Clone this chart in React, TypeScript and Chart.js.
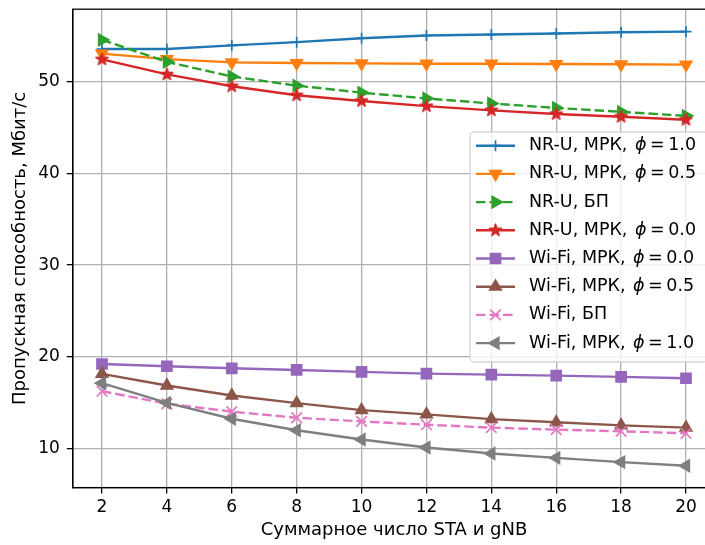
import React, { useEffect, useRef } from 'react';
import { Chart, registerables } from 'chart.js';
Chart.register(...registerables);

const categories = [2, 4, 6, 8, 10, 12, 14, 16, 18, 20];
const xTicks = [2, 4, 6, 8, 10, 12, 14, 16, 18, 20];
const yTicks = [10, 20, 30, 40, 50];

const labels = [
  'NR-U, МРК, ϕ = 1.0',
  'NR-U, МРК, ϕ = 0.5',
  'NR-U, БП',
  'NR-U, МРК, ϕ = 0.0',
  'Wi-Fi, МРК, ϕ = 0.0',
  'Wi-Fi, МРК, ϕ = 0.5',
  'Wi-Fi, БП',
  'Wi-Fi, МРК, ϕ = 1.0',
];

const nrMpk10 = [53.6, 53.6, 54.0, 54.35, 54.78, 55.08, 55.18, 55.3, 55.43, 55.5];
const nrMpk05 = [53.1, 52.5, 52.14, 52.07, 52.03, 52.0, 52.0, 51.96, 51.93, 51.9];
const nrBp = [54.6, 52.2, 50.6, 49.6, 48.84, 48.2, 47.65, 47.17, 46.74, 46.3];
const nrMpk00 = [52.47, 50.83, 49.53, 48.55, 47.93, 47.36, 46.9, 46.5, 46.2, 45.87];
const wfMpk00 = [19.2, 18.95, 18.73, 18.55, 18.34, 18.15, 18.04, 17.93, 17.79, 17.64];
const wfMpk05 = [18.12, 16.85, 15.76, 14.92, 14.16, 13.7, 13.18, 12.83, 12.5, 12.25];
const wfBp = [16.23, 14.86, 14.0, 13.33, 12.93, 12.57, 12.25, 12.03, 11.85, 11.63];
const wfMpk10 = [17.1, 14.96, 13.22, 11.96, 10.95, 10.08, 9.42, 8.95, 8.48, 8.08];

const series = [nrMpk10, nrMpk05, nrBp, nrMpk00, wfMpk00, wfMpk05, wfBp, wfMpk10];
const colors = ['#1f77b4', '#ff7f0e', '#2ca02c', '#d62728', '#9467bd', '#8c564b', '#e377c2', '#7f7f7f'];
const markers = ['cross', 'tri-down', 'tri-right', 'star', 'rect', 'tri-up', 'crossRot', 'tri-left'];
const dashed = [false, false, true, false, false, false, true, false];

const FONT = "'DejaVu Sans', sans-serif";
const TICK_FS = 17;
const TITLE_FS = 18;
const LEG_FS = 17.5;
const LW = 2.4;
const DASH = [9.5, 4];

function makeStar(color: string, R: number): HTMLCanvasElement {
  const s = Math.ceil(R * 2 + 4);
  const c = document.createElement('canvas');
  c.width = s;
  c.height = s;
  const g = c.getContext('2d')!;
  const cx = s / 2, cy = s / 2;
  g.beginPath();
  for (let i = 0; i < 10; i++) {
    const r = i % 2 === 0 ? R : R * 0.382;
    const a = -Math.PI / 2 + (i * Math.PI) / 5;
    const px = cx + r * Math.cos(a), py = cy + r * Math.sin(a);
    if (i === 0) g.moveTo(px, py); else g.lineTo(px, py);
  }
  g.closePath();
  g.fillStyle = color;
  g.fill();
  g.strokeStyle = color;
  g.lineWidth = 1.5;
  g.lineJoin = 'round';
  g.stroke();
  return c;
}

function markerOpts(m: string, color: string) {
  switch (m) {
    case 'cross': return { pointStyle: 'cross', pointRadius: 5.5, pointRotation: 0, pointBorderWidth: 1.7 };
    case 'crossRot': return { pointStyle: 'crossRot', pointRadius: 7.5, pointRotation: 0, pointBorderWidth: 1.7 };
    case 'rect': return { pointStyle: 'rect', pointRadius: 7.2, pointRotation: 0, pointBorderWidth: 1.5 };
    case 'star': return { pointStyle: makeStar(color, 6.3), pointRadius: 6, pointRotation: 0, pointBorderWidth: 0 };
    case 'tri-up': return { pointStyle: 'triangle', pointRadius: 6.8, pointRotation: 0, pointBorderWidth: 1.5 };
    case 'tri-down': return { pointStyle: 'triangle', pointRadius: 6.8, pointRotation: 180, pointBorderWidth: 1.5 };
    case 'tri-right': return { pointStyle: 'triangle', pointRadius: 6.8, pointRotation: 90, pointBorderWidth: 1.5 };
    case 'tri-left': return { pointStyle: 'triangle', pointRadius: 6.8, pointRotation: -90, pointBorderWidth: 1.5 };
  }
  return {};
}

function drawMarker(ctx: CanvasRenderingContext2D, m: string, color: string, x: number, y: number, img?: any) {
  ctx.save();
  ctx.setLineDash([]);
  ctx.fillStyle = color;
  ctx.strokeStyle = color;
  const o: any = markerOpts(m, color);
  const r = o.pointRadius;
  ctx.lineWidth = o.pointBorderWidth || 1.5;
  ctx.beginPath();
  if (m === 'cross') {
    ctx.moveTo(x - r, y); ctx.lineTo(x + r, y);
    ctx.moveTo(x, y - r); ctx.lineTo(x, y + r);
    ctx.stroke();
  } else if (m === 'crossRot') {
    const d = r * Math.SQRT1_2;
    ctx.moveTo(x - d, y - d); ctx.lineTo(x + d, y + d);
    ctx.moveTo(x + d, y - d); ctx.lineTo(x - d, y + d);
    ctx.stroke();
  } else if (m === 'rect') {
    const s = r * Math.SQRT1_2;
    ctx.rect(x - s, y - s, 2 * s, 2 * s);
    ctx.fill(); ctx.stroke();
  } else if (m === 'star') {
    ctx.drawImage(img, x - img.width / 2, y - img.height / 2);
  } else {
    let rad = (o.pointRotation * Math.PI) / 180;
    ctx.moveTo(x + Math.sin(rad) * r, y - Math.cos(rad) * r);
    rad += (2 * Math.PI) / 3;
    ctx.lineTo(x + Math.sin(rad) * r, y - Math.cos(rad) * r);
    rad += (2 * Math.PI) / 3;
    ctx.lineTo(x + Math.sin(rad) * r, y - Math.cos(rad) * r);
    ctx.closePath();
    ctx.fill(); ctx.stroke();
  }
  ctx.restore();
}

const framePlugin = {
  id: 'framePlugin',
  afterDraw(chart: any) {
    const { ctx, chartArea } = chart;
    const { left, top, right, bottom } = chartArea;
    ctx.save();
    ctx.strokeStyle = '#000';
    ctx.lineWidth = 1.3;
    ctx.strokeRect(left, top, right - left, bottom - top);

    // legend
    const lx = 470, ly = 132, lw = 237, lh = 230;
    const rr = 4;
    ctx.beginPath();
    ctx.moveTo(lx + rr, ly);
    ctx.lineTo(lx + lw - rr, ly);
    ctx.arcTo(lx + lw, ly, lx + lw, ly + rr, rr);
    ctx.lineTo(lx + lw, ly + lh - rr);
    ctx.arcTo(lx + lw, ly + lh, lx + lw - rr, ly + lh, rr);
    ctx.lineTo(lx + rr, ly + lh);
    ctx.arcTo(lx, ly + lh, lx, ly + lh - rr, rr);
    ctx.lineTo(lx, ly + rr);
    ctx.arcTo(lx, ly, lx + rr, ly, rr);
    ctx.closePath();
    ctx.fillStyle = 'rgba(255,255,255,0.8)';
    ctx.fill();
    ctx.strokeStyle = 'rgba(204,204,204,0.8)';
    ctx.lineWidth = 1.3;
    ctx.stroke();

    chart.data.datasets.forEach((ds: any, i: number) => {
      const cy = 145.7 + i * 28.2;
      const x0 = 476, x1 = 515;
      ctx.save();
      ctx.strokeStyle = colors[i];
      ctx.lineWidth = LW;
      ctx.setLineDash(dashed[i] ? DASH : []);
      ctx.beginPath();
      ctx.moveTo(x0, cy);
      ctx.lineTo(x1, cy);
      ctx.stroke();
      ctx.restore();
      drawMarker(ctx, markers[i], colors[i], (x0 + x1) / 2, cy, ds.pointStyle);

      const label: string = ds.label;
      const parts = label.split('ϕ');
      ctx.fillStyle = '#000';
      ctx.textBaseline = 'middle';
      ctx.textAlign = 'left';
      let tx = 529;
      ctx.font = `${LEG_FS}px ${FONT}`;
      ctx.fillText(parts[0], tx, cy);
      tx += ctx.measureText(parts[0]).width + 2;
      if (parts.length > 1) {
        ctx.font = `italic ${LEG_FS}px ${FONT}`;
        ctx.fillText('ϕ', tx, cy);
        tx += ctx.measureText('ϕ').width + 3.5;
        ctx.font = `${LEG_FS}px ${FONT}`;
        const rest = parts[1].trim();
        const eq = rest.split(' ');
        ctx.fillText(eq[0], tx, cy);
        tx += ctx.measureText(eq[0]).width + 3.5;
        ctx.fillText(eq[1], tx, cy);
      }
    });
    ctx.restore();
  },
};

export default function App() {
  const ref = useRef<HTMLCanvasElement | null>(null);
  useEffect(() => {
    const canvas = ref.current!;
    const datasets = series.map((arr, i) => ({
      label: labels[i],
      data: categories.map((x, k) => ({ x, y: arr[k] })),
      borderColor: colors[i],
      backgroundColor: colors[i],
      pointBackgroundColor: colors[i],
      pointBorderColor: colors[i],
      borderWidth: LW,
      borderDash: dashed[i] ? DASH : [],
      tension: 0,
      order: series.length - i,
      ...markerOpts(markers[i], colors[i]),
    }));
    const chart = new Chart(canvas, {
      type: 'line',
      data: { datasets },
      options: {
        responsive: false,
        animation: false,
        devicePixelRatio: 1,
        layout: { padding: { left: 0, top: 7.3, right: 14.8, bottom: 0 } },
        plugins: { legend: { display: false }, tooltip: { enabled: false } },
        font: { family: FONT },
        scales: {
          x: {
            type: 'linear',
            min: 1.1,
            max: 20.9,
            afterBuildTicks: (s: any) => { s.ticks = xTicks.map((v) => ({ value: v })); },
            afterFit: (s: any) => { s.height = 57.4; s.paddingLeft = 0; s.paddingRight = 0; },
            ticks: { color: '#000', font: { family: FONT, size: TICK_FS }, padding: 4, maxRotation: 0, autoSkip: false, callback: (v: any) => String(v) },
            grid: { color: '#b0b0b0', lineWidth: 1.3, tickColor: '#000', tickLength: 6 },
            border: { display: true, color: '#000', width: 1.3 },
            title: { display: true, text: 'Суммарное число STA и gNB', color: '#000', font: { family: FONT, size: TITLE_FS }, padding: { top: 0, bottom: 3.5 } },
          },
          y: {
            type: 'linear',
            min: 5.7,
            max: 57.95,
            afterBuildTicks: (s: any) => { s.ticks = yTicks.map((v) => ({ value: v })); },
            afterFit: (s: any) => { s.width = 72.8; s.paddingTop = 0; s.paddingBottom = 0; },
            ticks: { color: '#000', font: { family: FONT, size: TICK_FS }, padding: 7, autoSkip: false, callback: (v: any) => String(v) },
            grid: { color: '#b0b0b0', lineWidth: 1.3, tickColor: '#000', tickLength: 6 },
            border: { display: true, color: '#000', width: 1.3 },
            title: { display: true, text: 'Пропускная способность, Мбит/с', color: '#000', font: { family: FONT, size: TITLE_FS }, padding: { top: 10, bottom: 0 } },
          },
        },
      } as any,
      plugins: [framePlugin],
    });
    return () => chart.destroy();
  }, []);
  return (
    <div style={{ position: 'fixed', left: 0, top: 0, width: 705, height: 545, overflow: 'hidden', background: '#fff' }}>
      <canvas ref={ref} width={730} height={545} style={{ width: 730, height: 545, display: 'block' }} />
    </div>
  );
}
